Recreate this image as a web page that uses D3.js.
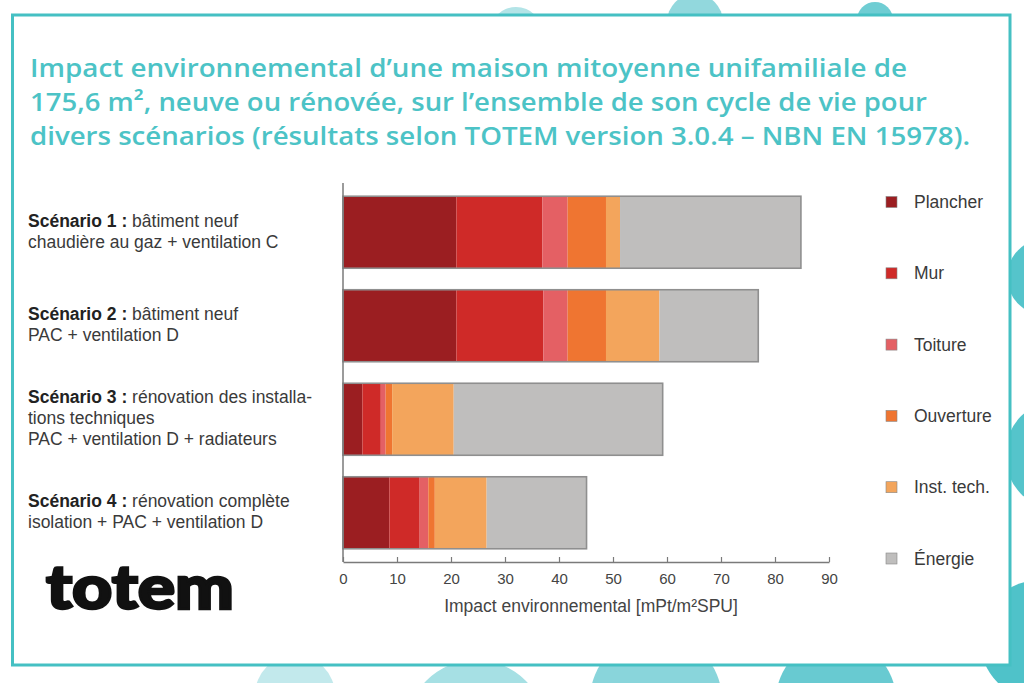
<!DOCTYPE html>
<html><head><meta charset="utf-8">
<script src="https://cdn.jsdelivr.net/npm/d3@7"></script>
<style>html,body{margin:0;padding:0;background:#fff;}svg{display:block;}</style>
</head><body>
<svg id="c" width="1024" height="683"></svg>
<script>
// ---- data ----
const scenarios = ["Scénario 1", "Scénario 2", "Scénario 3", "Scénario 4"];
const scenarioBold = ["Scénario 1 :", "Scénario 2 :", "Scénario 3 :", "Scénario 4 :"];
const scenarioLines = [
  ["bâtiment neuf", "chaudière au gaz + ventilation C"],
  ["bâtiment neuf", "PAC + ventilation D"],
  ["rénovation des installa-", "tions techniques", "PAC + ventilation D + radiateurs"],
  ["rénovation complète", "isolation + PAC + ventilation D"]
];
const seriesNames = ["Plancher", "Mur", "Toiture", "Ouverture", "Inst. tech.", "Énergie"];
const plancher  = [21.0, 21.0, 3.6, 8.6];
const mur       = [15.9, 16.1, 3.4, 5.6];
const toiture   = [4.7, 4.5, 0.9, 1.6];
const ouverture = [7.1, 7.1, 1.2, 1.2];
const instTech  = [2.6, 9.9, 11.4, 9.6];
const energie   = [33.5, 18.3, 38.7, 18.5];
const xTicks = [0, 10, 20, 30, 40, 50, 60, 70, 80, 90];
const titleLines = [
  "Impact environnemental d\u2019une maison mitoyenne unifamiliale de",
  "175,6 m\u00b2, neuve ou rénovée, sur l\u2019ensemble de son cycle de vie pour",
  "divers scénarios (résultats selon TOTEM version 3.0.4 \u2013 NBN EN 15978)."
];
const axisTitle = "Impact environnemental [mPt/m\u00b2SPU]";
const colors = ["#9b1e21", "#cf2a28", "#e46064", "#ef7531", "#f3a55c", "#bfbebd"];

// ---- build table ----
const seriesValues = [plancher, mur, toiture, ouverture, instTech, energie];
const table = scenarios.map((s, i) => {
  const o = {scenario: s};
  seriesNames.forEach((n, j) => o[n] = seriesValues[j][i]);
  return o;
});
const stacked = d3.stack().keys(seriesNames)(table);

const svg = d3.select("#c");
const FONT = "Liberation Sans, Arial, sans-serif";

// ---- decorative background blobs ----
const blobs = [
  {cx: 516, cy: 34, r: 27, c: "#b3e4e7"},
  {cx: 695, cy: 22, r: 28, c: "#92d8dd"},
  {cx: 875, cy: 20, r: 18, c: "#6fcdd3"},
  {cx: 295, cy: 695, r: 40, c: "#c2e9ec"},
  {cx: 476, cy: 730, r: 70, c: "#a6e0e4"},
  {cx: 656, cy: 700, r: 66, c: "#89d5db"},
  {cx: 836, cy: 700, r: 60, c: "#68cad1"},
  {cx: 1040, cy: 640, r: 60, c: "#4fc2c9"},
  {cx: 1045, cy: 277, r: 38, c: "#55c4cb"},
  {cx: 1060, cy: 455, r: 55, c: "#55c4cb"}
];
svg.append("g").selectAll("circle").data(blobs).join("circle")
  .attr("cx", d => d.cx).attr("cy", d => d.cy).attr("r", d => d.r).attr("fill", d => d.c);

// ---- frame ----
svg.append("rect").attr("x", 12.5).attr("y", 15).attr("width", 997.5).attr("height", 650)
  .attr("fill", "#fff").attr("stroke", "#45c0c3").attr("stroke-width", 3);

// ---- title ----
const titleW = [877, 897, 940];
svg.append("g").selectAll("text").data(titleLines).join("text")
  .attr("x", 30).attr("y", (d, i) => 77 + i * 34)
  .attr("font-family", "Open Sans, sans-serif").attr("font-weight", 600)
  .attr("font-size", 26).attr("fill", "#4cc3c6")
  .attr("textLength", (d, i) => titleW[i]).attr("lengthAdjust", "spacingAndGlyphs")
  .text(d => d);

// ---- scales ----
const x = d3.scaleLinear().domain([0, 90]).range([343, 829]);
const y = d3.scaleBand().domain(scenarios).range([185, 560]).paddingInner(0.23).paddingOuter(0.12);

// ---- bars ----
const gBars = svg.append("g");
gBars.selectAll("g").data(stacked).join("g")
  .attr("fill", (d, i) => colors[i])
  .selectAll("rect").data(d => d).join("rect")
  .attr("x", d => x(d[0])).attr("width", d => x(d[1]) - x(d[0]))
  .attr("y", d => y(d.data.scenario)).attr("height", y.bandwidth());
gBars.append("g").selectAll("rect").data(stacked[stacked.length - 1]).join("rect")
  .attr("x", x(0)).attr("width", d => x(d[1]) - x(0))
  .attr("y", d => y(d.data.scenario)).attr("height", y.bandwidth())
  .attr("fill", "none").attr("stroke", "#8f8f8f").attr("stroke-width", 1.6);

// ---- axes ----
const ax = svg.append("g").attr("transform", "translate(0,562)")
  .call(d3.axisBottom(x).tickValues(xTicks).tickSize(-5).tickPadding(11).tickSizeOuter(0));
ax.select(".domain").attr("stroke", "#7a7a7a").attr("stroke-width", 1.5);
ax.selectAll(".tick line").attr("stroke", "#7a7a7a").attr("stroke-width", 1.2);
ax.selectAll(".tick text").attr("font-family", FONT)
  .attr("font-size", 15).attr("fill", "#444");
svg.append("line").attr("x1", x(0)).attr("x2", x(0)).attr("y1", 183).attr("y2", 562)
  .attr("stroke", "#7a7a7a").attr("stroke-width", 1.5);
svg.append("text").attr("x", 591).attr("y", 612).attr("text-anchor", "middle")
  .attr("font-family", FONT).attr("font-size", 17.5)
  .attr("fill", "#444").text(axisTitle);

// ---- scenario labels ----
const lg = svg.append("g").attr("font-family", FONT)
  .attr("font-size", 17.5).attr("fill", "#3a3a3a");
scenarios.forEach((s, i) => {
  const lines = scenarioLines[i];
  const cy = y(s) + y.bandwidth() / 2;
  lines.forEach((ln, k) => {
    const ty = cy + (k - (lines.length - 1) / 2) * 21 + 5;
    const t = lg.append("text").attr("x", 28).attr("y", ty);
    if (k === 0) {
      t.append("tspan").attr("font-weight", "bold").attr("fill", "#222").text(scenarioBold[i] + " ");
    }
    t.append("tspan").text(ln);
  });
});

// ---- legend ----
const leg = svg.append("g").selectAll("g").data(seriesNames).join("g")
  .attr("transform", (d, i) => `translate(886,${202 + i * 71.3})`);
leg.append("rect").attr("x", 0).attr("y", -5.5).attr("width", 11).attr("height", 11)
  .attr("fill", (d, i) => colors[i]).attr("stroke", "#888").attr("stroke-width", 0.6);
leg.append("text").attr("x", 28).attr("y", 6)
  .attr("font-family", FONT).attr("font-size", 17.5)
  .attr("fill", "#3a3a3a").text(d => d);

// ---- logo ----
svg.append("text").attr("x", 46).attr("y", 609)
  .attr("font-family", "Lato, sans-serif").attr("font-weight", 900).attr("font-size", 60)
  .attr("fill", "#111").attr("stroke", "#111").attr("stroke-width", 2.5)
  .attr("textLength", 188).attr("lengthAdjust", "spacingAndGlyphs")
  .text("totem");
</script>
</body></html>
